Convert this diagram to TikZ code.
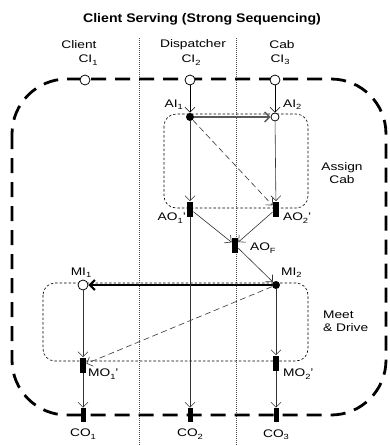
\documentclass[tikz,border=0pt]{standalone}
\usepackage{fontspec}
\setmainfont{Liberation Sans}[FakeStretch=1.25]
\newfontfamily\headfont{Liberation Sans}[FakeStretch=1.13]
\usetikzlibrary{arrows.meta}

\newcommand{\lsub}[1]{\raisebox{-0.4ex}{\fontsize{7.5}{8}\selectfont #1}}

\tikzset{every picture/.style={line width=0.75pt}}

\begin{document}
\begin{tikzpicture}[x=1pt,y=1pt,yscale=-1,xscale=1,
	lbl/.style={font=\fontsize{11}{13}\selectfont, inner sep=0.75pt},
	inport/.style={circle, draw, fill=white, minimum size=10pt, inner sep=0pt},
	dotport/.style={circle, fill=black, minimum size=8pt, inner sep=0pt},
	outbar/.style={fill=black, minimum width=6pt, minimum height=15pt, inner sep=0pt},
	cobar/.style={fill=black, minimum width=5pt, minimum height=14pt, inner sep=0pt},
	flow/.style={draw=black!80, line width=0.6pt, -{Straight Barb[length=5pt,width=10pt]}},
	altflow/.style={flow, dash pattern=on 6pt off 3.5pt},
	grpbox/.style={line width=0.6pt, dash pattern=on 2.5pt off 2pt, rounded corners=12pt},
	lane/.style={draw=black!70, line width=0.6pt, dash pattern=on 1pt off 1pt}]
	\useasboundingbox (0,0) rectangle (389,445);

	%Title and swimlanes
	\node[font=\headfont\bfseries\fontsize{12.5}{14}\selectfont] (title) at (202,19) {Client Serving (Strong Sequencing)};
	\node[lbl] (lclient) at (79,45) {Client};
	\node[lbl] (ldisp) at (193,45) {Dispatcher};
	\node[lbl] (lcab) at (282,45) {Cab};
	\draw[lane] (139,38) -- (139,445);
	\draw[lane] (236,38) -- (236,445);

	%Outer boundary
	\draw[line width=2.8pt, dash pattern=on 15pt off 9pt, rounded corners=55pt] (12,79) rectangle (386,415);

	%Sub-process boxes
	\draw[grpbox] (164,114) rectangle (308,208);
	\draw[grpbox] (43,283) rectangle (308,361);
	\node[lbl, align=center] (lassign) at (342,173) {Assign\\Cab};
	\node[lbl, align=left, anchor=west] (lmeet) at (322,321) {Meet\\\& Drive};

	%Ports
	\node[inport] (ci1) at (85,80) {};
	\node[inport] (ci2) at (190,80) {};
	\node[inport] (ci3) at (275,80) {};
	\node[dotport] (ai1) at (190,117) {};
	\node[inport, minimum size=8pt] (ai2) at (275,117) {};
	\node[outbar] (ao1) at (190,209) {};
	\node[outbar] (ao2) at (276,209) {};
	\node[outbar] (aof) at (235,245) {};
	\node[inport] (mi1) at (83,285) {};
	\node[dotport] (mi2) at (276,285) {};
	\node[outbar] (mo1) at (83,365) {};
	\node[outbar] (mo2) at (276,363) {};
	\node[cobar] (co1) at (83,415) {};
	\node[cobar] (co2) at (190,415) {};
	\node[cobar] (co3) at (276,415) {};

	%Port labels
	\node[lbl] (tci1) at (88,60) {CI\lsub{1}};
	\node[lbl] (tci2) at (191,60) {CI\lsub{2}};
	\node[lbl] (tci3) at (280,60) {CI\lsub{3}};
	\node[lbl, anchor=east] (tai1) at (184,105) {AI\lsub{1}};
	\node[lbl, anchor=west] (tai2) at (282,105) {AI\lsub{2}};
	\node[lbl, anchor=east] (tao1) at (187,218) {AO\lsub{1}'};
	\node[lbl, anchor=west] (tao2) at (282,218) {AO\lsub{2}'};
	\node[lbl, anchor=west] (taof) at (249,248) {AO\lsub{F}};
	\node[lbl] (tmi1) at (81,273) {MI\lsub{1}};
	\node[lbl, anchor=west] (tmi2) at (280,273) {MI\lsub{2}};
	\node[lbl, anchor=west] (tmo1) at (87,374) {MO\lsub{1}'};
	\node[lbl, anchor=west] (tmo2) at (282,374) {MO\lsub{2}'};
	\node[lbl] (tco1) at (83,434) {CO\lsub{1}};
	\node[lbl] (tco2) at (190,434) {CO\lsub{2}};
	\node[lbl] (tco3) at (276,435) {CO\lsub{3}};

	%Assign Cab flows
	\draw[flow, draw=black] (ci2) -- (ai1);
	\draw[flow, draw=black] (ci3) -- (ai2);
	\draw[flow, draw=black!65, line width=1.4pt] (ai1) -- (ai2);
	\draw[flow] (ai1) -- (ao1);
	\draw[altflow] (ai1) -- (ao2);
	\draw[flow] (ai2) -- (ao2);
	\draw[flow] (ao1) -- (aof);
	\draw[flow] (ao2) -- (aof);
	\draw[flow] (aof) -- (mi2);

	%Meet & Drive flows
	\draw[flow, draw=black, line width=2.2pt] (mi2) -- (mi1);
	\draw[flow] (mi1) -- (mo1);
	\draw[altflow] (mi2) -- (mo1);
	\draw[flow] (mi2) -- (mo2);

	%Outputs
	\draw[flow] (mo1) -- (co1);
	\draw[flow] (ao1) -- (co2);
	\draw[flow] (mo2) -- (co3);
\end{tikzpicture}
\end{document}
